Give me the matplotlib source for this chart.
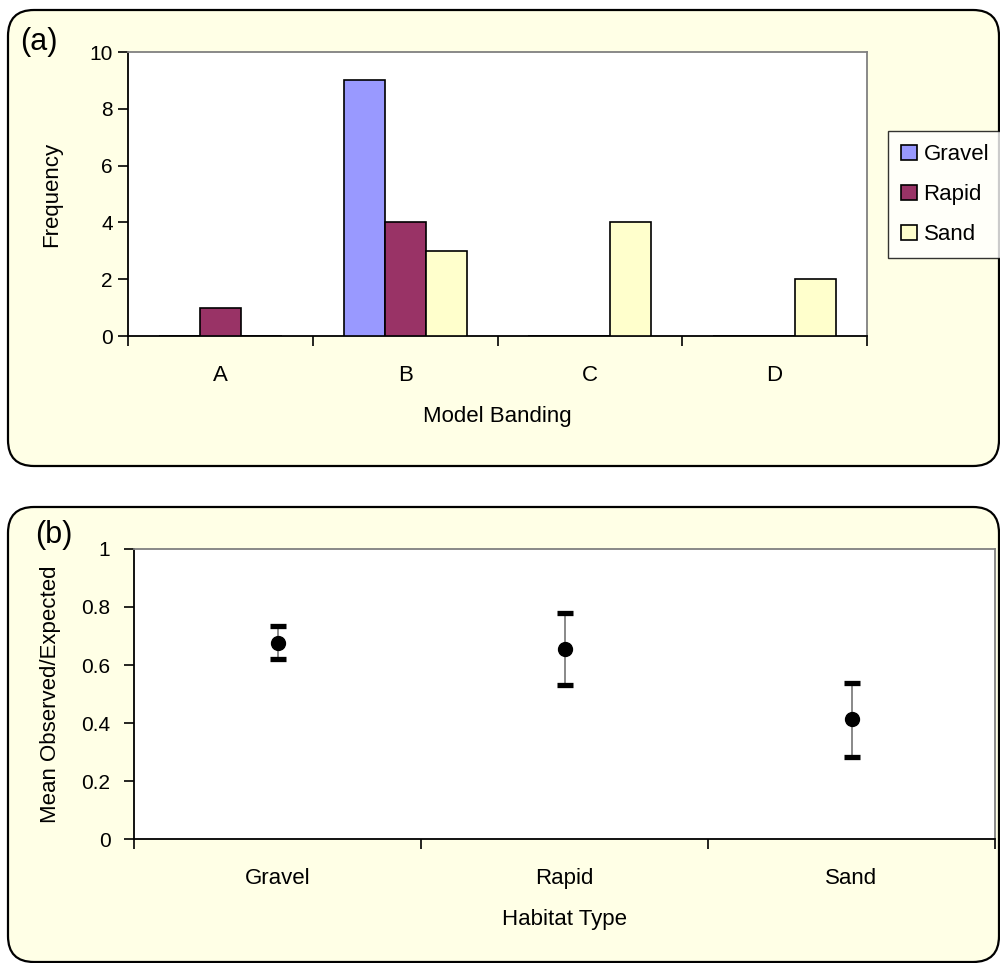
import matplotlib
matplotlib.use("Agg")
import matplotlib.pyplot as plt
import numpy as np
from matplotlib.patches import FancyBboxPatch, Patch
from matplotlib.transforms import IdentityTransform

plt.rcParams['font.family'] = ['Liberation Sans', 'DejaVu Sans']

# ---- data ----
bands = ['A', 'B', 'C', 'D']
series_names = ['Gravel', 'Rapid', 'Sand']
gravel_freq = [0, 9, 0, 0]
rapid_freq = [1, 4, 0, 0]
sand_freq = [0, 3, 4, 2]
bar_colors = ['#9999FF', '#993366', '#FFFFCC']

habitats = ['Gravel', 'Rapid', 'Sand']
mean_oe = [0.675, 0.655, 0.413]
err_low = [0.620, 0.530, 0.283]
err_high = [0.735, 0.780, 0.537]

W, H = 1000, 963
fig = plt.figure(figsize=(W / 100, H / 100), dpi=100)
fig.patch.set_facecolor('white')

bg = '#FFFFE6'
def panel(x0, ytop, x1, ybot):
    p = FancyBboxPatch((x0, H - ybot), x1 - x0, ybot - ytop,
                       boxstyle='round,pad=0,rounding_size=26',
                       transform=IdentityTransform(), facecolor=bg,
                       edgecolor='black', linewidth=1.6, zorder=-5)
    fig.patches.append(p)

panel(8, 10, 999, 466)
panel(8, 507, 999, 962)

def ax_px(l, t, r, b):
    return fig.add_axes([l / W, 1 - b / H, (r - l) / W, (b - t) / H])

def style_axes(ax, ypad):
    ax.set_facecolor('white')
    for s in ['top', 'right']:
        ax.spines[s].set_color('#808080')
        ax.spines[s].set_linewidth(1.3)
    for s in ['left', 'bottom']:
        ax.spines[s].set_color('black')
        ax.spines[s].set_linewidth(1.3)
    ax.tick_params(axis='y', which='major', direction='out', length=7, width=1.2,
                   labelsize=15, pad=ypad)
    ax.tick_params(axis='x', which='major', length=0, labelsize=16, pad=21)
    ax.tick_params(axis='x', which='minor', direction='out', length=7, width=1.2)

# ---- panel (a) ----
ax1 = ax_px(128, 52, 867, 336)
style_axes(ax1, 4)
n = len(bands)
x = np.arange(n)
bw = 1 / 4.5
data = [gravel_freq, rapid_freq, sand_freq]
for i, (vals, c, name) in enumerate(zip(data, bar_colors, series_names)):
    ax1.bar(x + (i - 1) * bw, vals, width=bw, color=c, edgecolor='black',
            linewidth=1.2, label=name, zorder=3)
ax1.set_xlim(-0.5, n - 0.5)
ax1.set_ylim(0, 10)
ax1.set_yticks([0, 2, 4, 6, 8, 10])
ax1.set_xticks(x)
ax1.set_xticklabels(bands)
ax1.set_xticks(np.arange(-0.5, n, 1), minor=True)
ax1.set_ylabel('Frequency', fontsize=16)
ax1.yaxis.set_label_coords((62 - 128) / 739, 0.5)
ax1.set_xlabel('Model Banding', fontsize=16, labelpad=14)
fig.text(20 / W, 1 - 42 / H, '(a)', fontsize=22, va='center', ha='left')

handles = [Patch(facecolor=c, edgecolor='black', linewidth=1.2) for c in bar_colors]
leg = fig.legend(handles, series_names, loc='upper left',
                 bbox_to_anchor=(888 / W, 1 - 258 / H, 125 / W, 127 / H),
                 mode='expand', fontsize=16,
                 frameon=True, fancybox=False, handlelength=0.7, handleheight=0.7,
                 handletextpad=0.3, labelspacing=0.85, borderpad=0.6,
                 borderaxespad=0)
leg.get_frame().set_edgecolor('black')
leg.get_frame().set_linewidth(1.0)
leg.get_frame().set_facecolor('white')

# ---- panel (b) ----
ax2 = ax_px(134, 549, 995, 839)
style_axes(ax2, 10)
m = len(habitats)
xh = np.arange(m)
yerr = [np.array(mean_oe) - np.array(err_low), np.array(err_high) - np.array(mean_oe)]
eb = ax2.errorbar(xh, mean_oe, yerr=yerr, fmt='o', color='black', markersize=10,
                  ecolor='#808080', elinewidth=1.3, capsize=5.5, capthick=3.8, zorder=3)
for cl in eb[1]:
    cl.set_color('black')
    cl.set_markeredgecolor('black')
    cl.set_markerfacecolor('black')
ax2.set_xlim(-0.5, m - 0.5)
ax2.set_ylim(0, 1)
ax2.set_yticks([0, 0.2, 0.4, 0.6, 0.8, 1])
ax2.set_yticklabels(['0', '0.2', '0.4', '0.6', '0.8', '1'])
ax2.set_xticks(xh)
ax2.set_xticklabels(habitats)
ax2.set_xticks(np.arange(-0.5, m, 1), minor=True)
ax2.set_ylabel('Mean Observed/Expected', fontsize=16)
ax2.yaxis.set_label_coords((61 - 134) / 861, 0.5)
ax2.set_xlabel('Habitat Type', fontsize=16, labelpad=14)
fig.text(35 / W, 1 - 535 / H, '(b)', fontsize=22, va='center', ha='left')

fig.savefig('out.png', dpi=100, facecolor='white')
